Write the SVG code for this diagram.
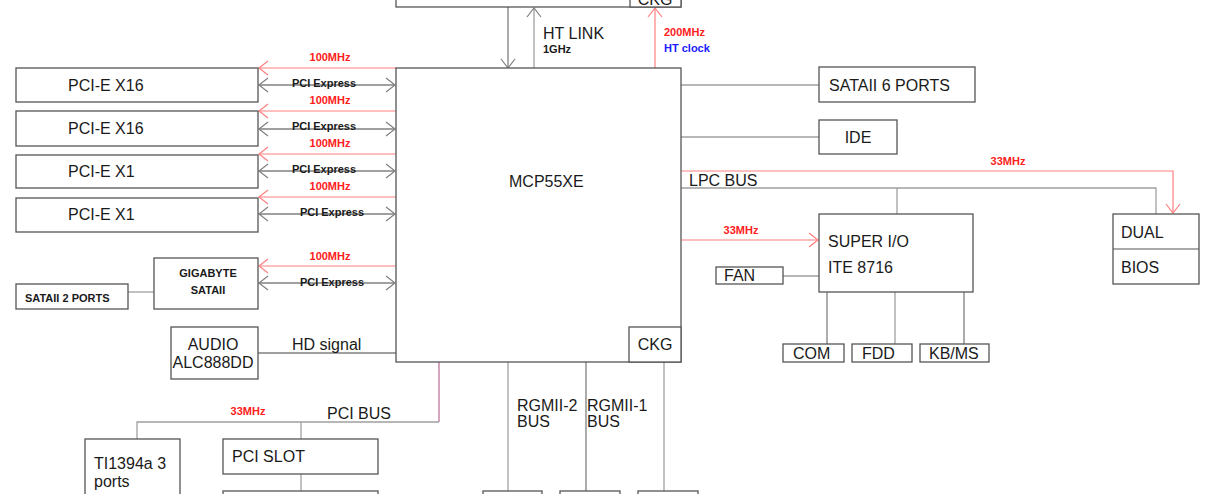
<svg xmlns="http://www.w3.org/2000/svg" width="1228" height="494" viewBox="0 0 1228 494">
<style>
.box{fill:#fff;stroke:#555;stroke-width:1.3}
.ln{stroke:#a0a0a0;stroke-width:1.3;fill:none}
.dk{stroke:#808080;stroke-width:1.3;fill:none}
.rd{stroke:#ff8080;stroke-width:1.2;fill:none}
.t{font-family:"Liberation Sans",Arial,sans-serif;font-size:16px;fill:#1a1a1a}
.b{font-family:"Liberation Sans",Arial,sans-serif;font-size:11px;font-weight:bold;fill:#1a1a1a}
.r{font-family:"Liberation Sans",Arial,sans-serif;font-size:11px;font-weight:bold;fill:#ff2020}
.bl{font-family:"Liberation Sans",Arial,sans-serif;font-size:11px;font-weight:bold;fill:#2020ff}
</style>
<defs>
<marker id="ag" markerUnits="userSpaceOnUse" viewBox="-11 -9 13 18" markerWidth="13" markerHeight="18" refX="0" refY="0" orient="auto-start-reverse">
<path d="M-9,-7 L0,0 L-9,7" fill="none" stroke="#808080" stroke-width="1.2"/>
</marker>
<marker id="ar" markerUnits="userSpaceOnUse" viewBox="-11 -9 13 18" markerWidth="13" markerHeight="18" refX="0" refY="0" orient="auto-start-reverse">
<path d="M-9,-7 L0,0 L-9,7" fill="none" stroke="#ff8080" stroke-width="1.2"/>
</marker>
</defs>

<g id="connectors">
<!-- HT link -->
<line class="dk" x1="508" y1="7" x2="508" y2="68" marker-end="url(#ag)"/>
<line class="ln" x1="534" y1="68" x2="534" y2="8" marker-end="url(#ag)"/>
<line class="rd" x1="655" y1="68" x2="655" y2="8" marker-end="url(#ar)"/>
<!-- PCI-E -->
<line class="rd" x1="396" y1="68" x2="259" y2="68" marker-end="url(#ar)"/>
<line class="dk" x1="259" y1="85" x2="395" y2="85" marker-start="url(#ag)" marker-end="url(#ag)"/>
<line class="rd" x1="396" y1="111" x2="259" y2="111" marker-end="url(#ar)"/>
<line class="dk" x1="259" y1="129" x2="395" y2="129" marker-start="url(#ag)" marker-end="url(#ag)"/>
<line class="rd" x1="396" y1="154" x2="259" y2="154" marker-end="url(#ar)"/>
<line class="dk" x1="259" y1="171" x2="395" y2="171" marker-start="url(#ag)" marker-end="url(#ag)"/>
<line class="rd" x1="396" y1="197" x2="259" y2="197" marker-end="url(#ar)"/>
<line class="dk" x1="259" y1="214" x2="395" y2="214" marker-start="url(#ag)" marker-end="url(#ag)"/>
<line class="rd" x1="396" y1="266" x2="259" y2="266" marker-end="url(#ar)"/>
<line class="dk" x1="259" y1="283" x2="395" y2="283" marker-start="url(#ag)" marker-end="url(#ag)"/>
<line class="ln" x1="128" y1="292" x2="154" y2="292"/>
<line class="dk" x1="258" y1="353" x2="396" y2="353"/>
<!-- PCI bus -->
<line x1="439" y1="362" x2="439" y2="422" stroke="#c888a8" stroke-width="1.5"/>
<polyline class="ln" points="439,422 137,422 137,439"/>
<line class="ln" x1="301" y1="422" x2="301" y2="439"/>
<line class="ln" x1="301" y1="474" x2="301" y2="491"/>
<!-- RGMII -->
<line class="ln" x1="508" y1="362" x2="508" y2="491"/>
<line class="dk" x1="586" y1="362" x2="586" y2="491"/>
<line class="ln" x1="664" y1="362" x2="664" y2="491"/>
<!-- right side -->
<line class="ln" x1="681" y1="85" x2="819" y2="85"/>
<line class="ln" x1="681" y1="137" x2="819" y2="137"/>
<polyline class="rd" points="681,171 1173,171 1173,213" marker-end="url(#ar)"/>
<polyline class="ln" points="681,188 1156,188 1156,214"/>
<line class="ln" x1="897" y1="188" x2="897" y2="214"/>
<line class="rd" x1="681" y1="240" x2="818" y2="240" marker-end="url(#ar)"/>
<line class="ln" x1="783" y1="276" x2="819" y2="276"/>
<line class="dk" x1="827" y1="292" x2="827" y2="344"/>
<line class="ln" x1="895" y1="292" x2="895" y2="344"/>
<line class="dk" x1="964" y1="292" x2="964" y2="344"/>
</g>

<g id="top-box">
<rect class="box" x="396" y="-20" width="285" height="27"/>
<rect class="box" x="630" y="-20" width="51" height="27"/>
<text class="t" x="655" y="5" text-anchor="middle">CKG</text>
</g>

<g id="mcp55xe">
<rect class="box" x="396" y="68" width="285" height="294"/>
<text class="t" x="509" y="187">MCP55XE</text>
</g>
<g id="ckg">
<rect class="box" x="629" y="327" width="52" height="35"/>
<text class="t" x="655" y="350" text-anchor="middle">CKG</text>
</g>

<g id="pcie1"><rect class="box" x="16" y="68" width="242" height="34"/><text class="t" x="68" y="91">PCI-E X16</text></g>
<g id="pcie2"><rect class="box" x="16" y="111" width="242" height="35"/><text class="t" x="68" y="134">PCI-E X16</text></g>
<g id="pcie3"><rect class="box" x="16" y="155" width="242" height="33"/><text class="t" x="68" y="177">PCI-E X1</text></g>
<g id="pcie4"><rect class="box" x="16" y="198" width="242" height="34"/><text class="t" x="68" y="220">PCI-E X1</text></g>

<g id="gigabyte">
<rect class="box" x="154" y="258" width="104" height="51"/>
<text class="b" x="208" y="277" text-anchor="middle">GIGABYTE</text>
<text class="b" x="208" y="294" text-anchor="middle">SATAII</text>
</g>
<g id="sata2">
<rect class="box" x="16" y="284" width="112" height="25"/>
<text class="b" x="25" y="302">SATAII 2 PORTS</text>
</g>
<g id="audio">
<rect class="box" x="171" y="327" width="87" height="52"/>
<text class="t" x="213" y="350" text-anchor="middle">AUDIO</text>
<text class="t" x="213" y="368" text-anchor="middle">ALC888DD</text>
</g>

<g id="ti1394">
<rect class="box" x="85" y="439" width="95" height="70"/>
<text class="t" x="94" y="469">TI1394a 3</text>
<text class="t" x="94" y="487">ports</text>
</g>
<g id="pcislot">
<rect class="box" x="223" y="439" width="155" height="35"/>
<text class="t" x="232" y="462">PCI SLOT</text>
</g>
<g id="pcislot2"><rect class="box" x="223" y="491" width="155" height="20"/></g>
<g id="rg1"><rect class="box" x="483" y="491" width="59" height="20"/></g>
<g id="rg2"><rect class="box" x="560" y="491" width="60" height="20"/></g>
<g id="rg3"><rect class="box" x="638" y="491" width="60" height="20"/></g>

<g id="sata6"><rect class="box" x="819" y="67" width="156" height="35"/><text class="t" x="829" y="91">SATAII 6 PORTS</text></g>
<g id="ide"><rect class="box" x="819" y="120" width="78" height="34"/><text class="t" x="858" y="143" text-anchor="middle">IDE</text></g>
<g id="superio">
<rect class="box" x="819" y="214" width="154" height="78"/>
<text class="t" x="828" y="247">SUPER I/O</text>
<text class="t" x="828" y="273">ITE 8716</text>
</g>
<g id="fan"><rect class="box" x="716" y="267" width="67" height="17"/><text class="t" x="724" y="281">FAN</text></g>
<g id="com"><rect class="box" x="783" y="344" width="61" height="18"/><text class="t" x="793" y="359">COM</text></g>
<g id="fdd"><rect class="box" x="852" y="344" width="60" height="18"/><text class="t" x="862" y="359">FDD</text></g>
<g id="kbms"><rect class="box" x="920" y="344" width="69" height="18"/><text class="t" x="929" y="359">KB/MS</text></g>
<g id="bios">
<rect class="box" x="1113" y="214" width="86" height="70"/>
<line x1="1113" y1="249" x2="1199" y2="249" stroke="#555" stroke-width="1.2"/>
<text class="t" x="1121" y="238">DUAL</text>
<text class="t" x="1121" y="273">BIOS</text>
</g>

<g id="labels">
<text class="t" x="543" y="39">HT LINK</text>
<text class="b" x="543" y="53">1GHz</text>
<text class="r" x="664" y="36">200MHz</text>
<text class="bl" x="664" y="52">HT clock</text>
<text class="r" x="330" y="61" text-anchor="middle">100MHz</text>
<text class="b" x="324" y="87" text-anchor="middle">PCI Express</text>
<text class="r" x="330" y="104" text-anchor="middle">100MHz</text>
<text class="b" x="324" y="130" text-anchor="middle">PCI Express</text>
<text class="r" x="330" y="147" text-anchor="middle">100MHz</text>
<text class="b" x="324" y="173" text-anchor="middle">PCI Express</text>
<text class="r" x="330" y="190" text-anchor="middle">100MHz</text>
<text class="b" x="332" y="216" text-anchor="middle">PCI Express</text>
<text class="r" x="330" y="260" text-anchor="middle">100MHz</text>
<text class="b" x="332" y="286" text-anchor="middle">PCI Express</text>
<text class="t" x="292" y="350">HD signal</text>
<text class="r" x="248" y="415" text-anchor="middle">33MHz</text>
<text class="t" x="327" y="419">PCI BUS</text>
<text class="t" x="517" y="411">RGMII-2</text>
<text class="t" x="517" y="427">BUS</text>
<text class="t" x="587" y="411">RGMII-1</text>
<text class="t" x="587" y="427">BUS</text>
<text class="t" x="689" y="186">LPC BUS</text>
<text class="r" x="1008" y="165" text-anchor="middle">33MHz</text>
<text class="r" x="741" y="234" text-anchor="middle">33MHz</text>
</g>
</svg>
